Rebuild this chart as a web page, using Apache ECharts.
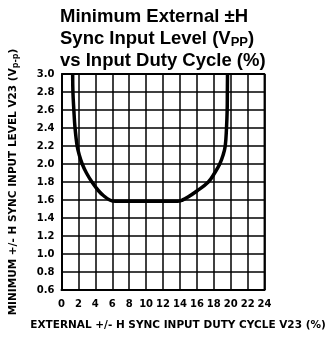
<!DOCTYPE html>
<html>
<head>
<meta charset="utf-8">
<script src="https://cdn.jsdelivr.net/npm/echarts@6/dist/echarts.min.js"></script>
<style>
  html, body { margin: 0; padding: 0; background: #fff; }
  #chart { width: 326px; height: 338px; }
</style>
</head>
<body>
<div id="chart"></div>
<script>
// Duty cycle (%) on x, minimum sync level (Vp-p) on y
const dutyCycle = [1.32, 1.35, 1.46, 1.6, 1.85, 2.1, 2.45, 2.95, 3.6, 4.4, 4.95, 5.7, 6.4, 10.0, 13.7, 14.3, 14.9, 16.0, 17.35, 18.1, 18.7, 19.1, 19.35, 19.5, 19.58, 19.6, 19.62];
const syncLevel = [3.0, 2.8, 2.6, 2.4, 2.2, 2.1, 2.0, 1.9, 1.8, 1.7, 1.65, 1.6, 1.585, 1.585, 1.585, 1.6, 1.63, 1.7, 1.8, 1.9, 2.0, 2.1, 2.2, 2.4, 2.6, 2.8, 3.0];
const xTicks = [0, 24, 2];
const yTicks = [0.6, 3.0, 0.2];

const curve = dutyCycle.map((x, i) => [x, syncLevel[i]]);

const chart = echarts.init(document.getElementById('chart'), null, { renderer: 'canvas' });
const font = 'Liberation Sans, Arial, sans-serif';
const labelFont = 'DejaVu Sans, sans-serif';

chart.setOption({
  animation: false,
  backgroundColor: '#fff',
  title: {
    left: 55,
    top: 1,
    textAlign: 'left',
    text: '{b|Minimum External ±H}\n{b|Sync Input Level (V}{s|PP}{b|)}\n{b|vs Input Duty Cycle (%)}',
    textStyle: {
      rich: {
        b: { fontFamily: font, fontWeight: 'bold', fontSize: 18.5, color: '#000', lineHeight: 22 },
        s: { fontFamily: font, fontWeight: 'bold', fontSize: 13, color: '#000', lineHeight: 22, padding: [7, 0, 0, 0] }
      }
    }
  },
  grid: { left: 56, right: 57, top: 74, bottom: 48, show: false },
  xAxis: {
    type: 'value',
    min: xTicks[0], max: xTicks[1], interval: xTicks[2],
    name: 'EXTERNAL +/- H SYNC INPUT DUTY CYCLE V23 (%)',
    nameLocation: 'middle',
    nameGap: 30,
    nameTextStyle: { fontFamily: labelFont, fontSize: 10.5, fontWeight: 'bold', color: '#000', padding: [0, 0, 0, 30] },
    axisLine: { show: true, lineStyle: { color: '#000', width: 2 } },
    axisTick: { show: false },
    axisLabel: { fontFamily: labelFont, fontWeight: 'bold', fontSize: 10, color: '#000', margin: 9 },
    splitLine: { show: true, lineStyle: { color: '#000', width: 1.5 } }
  },
  yAxis: {
    type: 'value',
    min: yTicks[0], max: yTicks[1], interval: yTicks[2],
    name: '{n|MINIMUM +/- H SYNC INPUT LEVEL V23 (V}{s|p-p}{n|)}',
    nameLocation: 'middle',
    nameGap: 42,
    nameRotate: 90,
    nameTextStyle: {
      rich: {
        n: { fontFamily: labelFont, fontSize: 10.5, fontWeight: 'bold', color: '#000' },
        s: { fontFamily: labelFont, fontSize: 8, fontWeight: 'bold', color: '#000', padding: [4, 0, 0, 0] }
      }
    },
    axisLine: { show: true, lineStyle: { color: '#000', width: 2 } },
    axisTick: { show: false },
    axisLabel: {
      fontFamily: labelFont, fontWeight: 'bold', fontSize: 10, color: '#000', margin: 7,
      formatter: v => v.toFixed(1)
    },
    splitLine: { show: true, lineStyle: { color: '#000', width: 1.5 } }
  },
  series: [
    {
      type: 'line',
      data: curve,
      smooth: 0.4,
      symbol: 'none',
      lineStyle: { color: '#000', width: 3.5 },
      z: 5
    },
    {
      // closing frame on the top and right edges
      type: 'line',
      data: [[xTicks[0], yTicks[1]], [xTicks[1], yTicks[1]], [xTicks[1], yTicks[0]]],
      symbol: 'none',
      silent: true,
      lineStyle: { color: '#000', width: 2 },
      z: 4
    }
  ]
});
</script>
</body>
</html>
